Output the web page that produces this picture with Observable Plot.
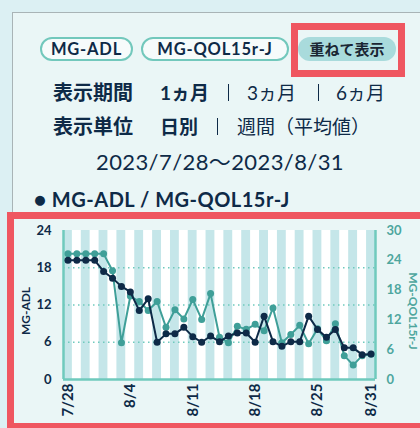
<!DOCTYPE html>
<html><head><meta charset="utf-8">
<script src="https://cdn.jsdelivr.net/npm/d3@7"></script>
<script src="https://cdn.jsdelivr.net/npm/@observablehq/plot@0.6"></script>
<style>
html,body{margin:0;padding:0;width:420px;height:428px;overflow:hidden;background:#dcf0f3;font-family:Lato,"Noto Sans CJK JP",sans-serif;color:#0e2a47;}
#panel{position:absolute;left:12px;top:12px;width:420px;height:430px;background:#eaf6f6;border-left:1px solid #a9b4b6;border-top:1px solid #a9b4b6;}
.abs{position:absolute;white-space:nowrap;}
.pill{position:absolute;top:37px;height:24px;box-sizing:border-box;border:2px solid #72c8bc;border-radius:12px;background:#f6fbfb;font-weight:700;font-size:16.5px;letter-spacing:0.8px;line-height:20px;text-align:center;color:#0e2a47;}
.red{position:absolute;border:7px solid #ef5660;box-sizing:border-box;}
.rot{position:absolute;white-space:nowrap;font-size:12px;font-weight:700;line-height:14px;}
#chart{position:absolute;left:0;top:215px;}
</style></head>
<body>
<div id="panel"></div>
<div class="pill" style="left:40px;width:93px;">MG-ADL</div>
<div class="pill" style="left:141px;width:148px;">MG-QOL15r-J</div>
<div class="pill" style="left:298px;width:98px;border:none;background:#a9dbdc;font-size:15px;letter-spacing:0;line-height:24px;font-family:'Noto Sans CJK JP',sans-serif;color:#1a2633;">重ねて表示</div>
<div class="red" style="left:291px;top:23px;width:114px;height:54px;"></div>

<div class="abs" style="left:53px;top:79px;font-size:20px;font-weight:700;font-family:'Noto Sans CJK JP';line-height:26px;">表示期間</div>
<div class="abs" style="left:160px;top:79px;font-size:19px;font-weight:700;line-height:26px;">1<span style="font-family:'Noto Sans CJK JP'">ヵ月</span></div>
<div class="abs" style="left:228px;top:84px;width:1px;height:17px;background:#0e2a47;"></div>
<div class="abs" style="left:247px;top:79px;font-size:19px;line-height:26px;">3<span style="font-family:'Noto Sans CJK JP'">ヵ月</span></div>
<div class="abs" style="left:318px;top:84px;width:1px;height:17px;background:#0e2a47;"></div>
<div class="abs" style="left:336px;top:79px;font-size:19px;line-height:26px;">6<span style="font-family:'Noto Sans CJK JP'">ヵ月</span></div>

<div class="abs" style="left:53px;top:113px;font-size:20px;font-weight:700;font-family:'Noto Sans CJK JP';line-height:26px;">表示単位</div>
<div class="abs" style="left:160px;top:113px;font-size:19px;font-weight:700;font-family:'Noto Sans CJK JP';line-height:26px;">日別</div>
<div class="abs" style="left:217px;top:118px;width:1px;height:17px;background:#0e2a47;"></div>
<div class="abs" style="left:237px;top:113px;font-size:19px;font-family:'Noto Sans CJK JP';line-height:26px;">週間（平均値）</div>

<div class="abs" style="left:0;width:440px;text-align:center;top:148px;font-size:22px;letter-spacing:0.4px;line-height:28px;">2023/7/28〜2023/8/31</div>
<div class="abs" style="left:34px;top:186px;font-size:20px;font-weight:700;letter-spacing:0.5px;line-height:26px;">● MG-ADL / MG-QOL15r-J</div>

<div id="chart"></div>
<div class="rot" id="ylabL" style="left:25.5px;top:311px;transform:translate(-50%,-50%) rotate(-90deg);color:#0e2a47;">MG-ADL</div>
<div class="rot" id="ylabR" style="left:413px;top:311px;transform:translate(-50%,-50%) rotate(90deg);color:#4ea69e;">MG-QOL15r-J</div>
<div class="red" style="left:7px;top:212px;width:440px;height:218px;"></div>
<script>
const dates = ["7/28","7/29","7/30","7/31","8/1","8/2","8/3","8/4","8/5","8/6","8/7","8/8","8/9","8/10","8/11","8/12","8/13","8/14","8/15","8/16","8/17","8/18","8/19","8/20","8/21","8/22","8/23","8/24","8/25","8/26","8/27","8/28","8/29","8/30","8/31"];
const adl = [19.2,19.2,19.2,19.2,17.4,16.3,15.0,14.1,11.1,13.0,6.0,7.35,7.35,8.4,6.9,6.0,7.0,6.1,7.0,7.5,7.5,6.0,10.2,6.1,5.35,6.1,6.1,10.2,8.05,6.8,8.05,5.1,5.1,4.0,4.1];
const qol = [25.3,25.3,25.3,25.3,25.3,21.9,7.4,16.8,15.7,13.9,15.7,10.5,14.05,12.2,16.1,12.1,17.3,8.5,7.4,10.7,10.1,11.1,9.8,14.4,7.4,9.05,10.9,7.2,10.2,7.8,11.2,4.8,2.9,4.8,5.1];
const xTicks = ["7/28","8/4","8/11","8/18","8/25","8/31"];
const adlTicks = [0,6,12,18,24];
const qolTicks = [0,6,12,18,24,30];
const gridVals = [6,12,18];
const adlMax = 24, qolMax = 30;

const navy = "#0e2a47", teal = "#3f9f98", stripe = "#c5e6e9", axisC = "#6fcabd", tealText = "#4ea69e";
const rows = dates.map((d,i)=>({i, d, adl: adl[i], qol: qol[i], q: qol[i]*adlMax/qolMax}));

const chart = Plot.plot({
  width: 420, height: 209,
  marginLeft: 63, marginRight: 45, marginTop: 15, marginBottom: 45,
  style: {fontFamily: "Lato, 'Noto Sans CJK JP', sans-serif", background: "transparent", overflow: "visible"},
  x: {type: "linear", domain: [-0.5, dates.length - 0.5]},
  y: {domain: [0, adlMax]},
  marks: [
    Plot.rect(rows, {x1: d => d.i - 0.5, x2: d => d.i + 0.5, y1: 0, y2: adlMax, fill: d => d.i % 2 ? "#ffffff" : stripe}),
    Plot.ruleY(gridVals, {stroke: axisC, strokeWidth: 1.5, strokeDasharray: "1.5,3.5"}),
    Plot.ruleY([0], {stroke: axisC, strokeWidth: 2.5}),
    Plot.ruleX([-0.5, dates.length - 0.5], {stroke: axisC, strokeWidth: 2.5}),
    Plot.line(rows, {x: "i", y: "q", stroke: teal, strokeWidth: 2}),
    Plot.dot(rows, {x: "i", y: "q", fill: teal, r: 3.5}),
    Plot.line(rows, {x: "i", y: "adl", stroke: navy, strokeWidth: 2}),
    Plot.dot(rows, {x: "i", y: "adl", fill: navy, r: 3.5}),
    Plot.axisY({anchor: "left", ticks: adlTicks, tickSize: 0, tickPadding: 12, label: null, fontSize: 13, fontWeight: 700, fill: navy}),
    Plot.axisY({anchor: "right", ticks: qolTicks.map(v => v*adlMax/qolMax), tickFormat: v => Math.round(v*qolMax/adlMax), tickSize: 0, tickPadding: 11, label: null, fontSize: 13, fontWeight: 700, fill: tealText}),
    Plot.axisX({ticks: xTicks.map(t => dates.indexOf(t)), tickFormat: i => dates[i], tickSize: 0, tickPadding: 4, tickRotate: -90, label: null, fontSize: 15, fontWeight: 700, fill: navy})
  ]
});
document.getElementById("chart").appendChild(chart);
</script>
</body></html>
